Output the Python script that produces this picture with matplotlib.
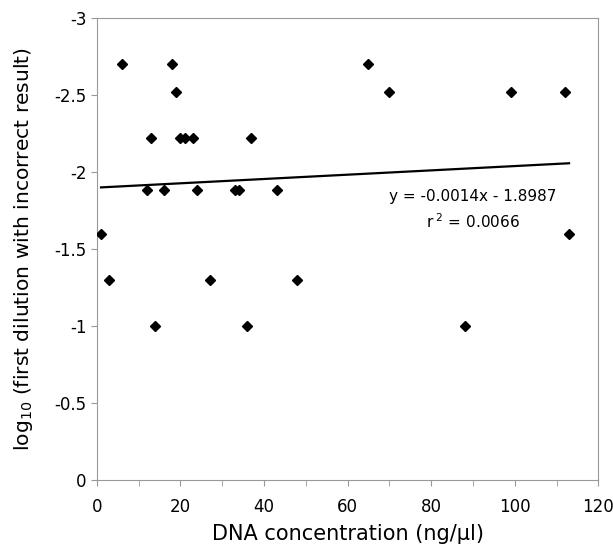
import matplotlib.pyplot as plt
import numpy as np

# DNA concentration (ng/ul) vs log10 of first dilution with incorrect result
conc = [6, 18, 65, 19, 70, 99, 112, 13, 20, 21, 23, 37,
        12, 16, 24, 33, 34, 43, 1, 113, 3, 27, 48, 14, 36, 88]
logdil = [-2.7, -2.7, -2.7, -2.52, -2.52, -2.52, -2.52, -2.22, -2.22, -2.22, -2.22, -2.22,
          -1.88, -1.88, -1.88, -1.88, -1.88, -1.88, -1.6, -1.6, -1.3, -1.3, -1.3, -1.0, -1.0, -1.0]

slope = -0.0014
intercept = -1.8987
r2 = 0.0066

fig = plt.figure(figsize=(6.13, 5.49), dpi=100)
ax = fig.add_axes([0.158, 0.126, 0.818, 0.841])

ax.plot(conc, logdil, 'kD', ms=5, zorder=3)

xs = np.array([min(conc), max(conc)])
ax.plot(xs, slope * xs + intercept, color='black', lw=1.6)

ax.text(90, -1.84, 'y = %.4fx - %.4f' % (slope, -intercept), ha='center', va='center', fontsize=11)
ax.text(90, -1.675, 'r$^{\\ 2}$ = %.4f' % r2, ha='center', va='center', fontsize=11)

ax.set_xlim(0, 120)
ax.set_ylim(0, -3)
ax.set_xticks(np.arange(0, 121, 20))
ax.set_xticks(np.arange(0, 121, 10), minor=True)
ax.set_yticks(np.arange(0, -3.01, -0.5))
ax.set_yticklabels(['0', '-0.5', '-1', '-1.5', '-2', '-2.5', '-3'])

for s in ax.spines.values():
    s.set_color('#999999')
    s.set_linewidth(0.8)
ax.tick_params(which='both', colors='#999999', labelcolor='black', labelsize=12, length=4)
ax.tick_params(which='minor', length=4)
ax.tick_params(axis='x', pad=9)

ax.set_xlabel('DNA concentration (ng/\u00b5l)', fontsize=15, labelpad=6)
ax.set_ylabel('log$_{10}$ (first dilution with incorrect result)', fontsize=14.6, labelpad=14)

fig.savefig('out.png', dpi=100)
